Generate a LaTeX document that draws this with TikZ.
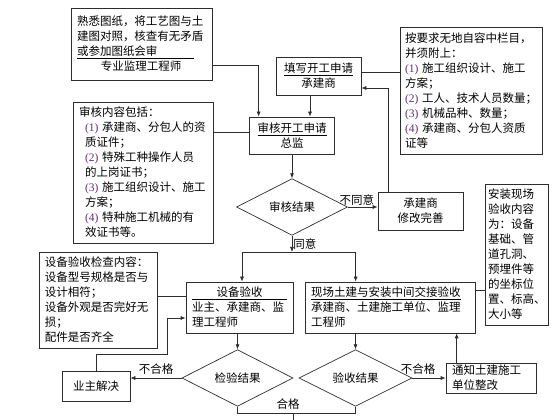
\documentclass[tikz,border=0pt]{standalone}
\usepackage{fontspec}
\setmainfont{Noto Sans CJK SC}
\newfontfamily\numfont{Liberation Serif}
\usepackage{xcolor}
\usepackage{tikz}
\usetikzlibrary{shapes.geometric,arrows.meta}
\definecolor{numcol}{RGB}{96,48,112}
\definecolor{linecol}{RGB}{45,45,45}
\newcommand{\itm}[1]{{\numfont\color{numcol}(#1)}~}

\begin{document}
\begin{tikzpicture}[x=1pt,y=1pt,line width=0.7pt,draw=linecol,
		box/.style={draw,rectangle,inner xsep=6pt,inner ysep=0pt,align=left,font=\fontsize{11.5}{15}\selectfont},
		cbox/.style={box,align=center},
		dia/.style={draw,diamond,inner sep=0pt,font=\fontsize{11.5}{15}\selectfont},
		lbl/.style={inner sep=1pt,font=\fontsize{11.5}{14}\selectfont},
		arr/.style={-{Latex[length=5pt,width=4pt]}}]
			\useasboundingbox (0,0) rectangle (560,420);
			\node[box,text width=129pt,minimum height=72pt] (n1) at (141.5,376) {熟悉图纸，将工艺图与土\\建图对照，核查有无矛盾\\\underline{或参加图纸会审\hspace{36pt}}\\\hspace*{24pt}专业监理工程师};
			\node[cbox,text width=73pt,minimum height=38pt] (n2) at (318.5,344) {\underline{填写开工申请}\\承建商};
			\node[box,inner xsep=5pt,text width=132pt,minimum height=127pt] (n3) at (471,329.5) {按要求无地自容中栏目，\\并须附上：\\\itm{1}施工组织设计、施工\\方案；\\\itm{2}工人、技术人员数量；\\\itm{3}机械品种、数量；\\\itm{4}承建商、分包人资质\\证等};
			\node[box,text width=128pt,minimum height=141pt] (n5) at (143,247.5) {审核内容包括：\\\hspace*{6pt}\itm{1}承建商、分包人的资\\\hspace*{6pt}质证件；\\\hspace*{6pt}\itm{2}特殊工种操作人员\\\hspace*{6pt}的上岗证书；\\\hspace*{6pt}\itm{3}施工组织设计、施工\\\hspace*{6pt}方案；\\\hspace*{6pt}\itm{4}特种施工机械的有\\\hspace*{6pt}效证书等。};
			\node[cbox,text width=73pt,minimum height=37pt] (n4) at (292,284.5) {\underline{审核开工申请}\\总监};
			\node[dia,minimum width=111pt,minimum height=44pt] (d1) at (292,213) {审核结果};
			\node[cbox,text width=73pt,minimum height=38pt] (n6) at (420.5,209) {承建商\\修改完善};
			\coordinate (split) at (292,168);
			\node[box,text width=95pt,minimum height=51pt] (n7) at (239.5,112.5) {\underline{\makebox[95pt]{设备验收}}\\业主、承建商、监\\理工程师};
			\node[box,text width=158pt,minimum height=51pt] (n8) at (390,112.5) {\underline{现场土建与安装中间交接验收}\\承建商、土建施工单位、监理\\工程师};
			\node[box,inner xsep=3pt,text width=57pt,minimum height=141pt] (n9) at (516.5,165.5) {安装现场\\验收内容\\为：设备\\基础、管\\道孔洞、\\预埋件等\\的坐标位\\置、标高、\\大小等};
			\node[box,text width=106pt,minimum height=96pt] (n10) at (98,120) {设备验收检查内容：\\设备型号规格是否与\\设计相符；\\设备外观是否完好无\\损；\\配件是否齐全};
			\node[dia,minimum width=111pt,minimum height=44pt] (d2) at (237.5,42) {检验结果};
			\node[cbox,text width=56pt,minimum height=30pt] (n11) at (96,34) {业主解决};
			\node[dia,minimum width=113pt,minimum height=44pt] (d3) at (355.5,42) {验收结果};
			\node[box,text width=78pt,minimum height=30pt] (n12) at (491,42) {通知土建施工\\单位整改};
			\coordinate (join) at (293,7);
			\coordinate (out) at (293,0);
			\draw[arr] ([yshift=-21pt]n1.east) -| ([xshift=9.5pt]n4.north west);
			\draw[arr] ([xshift=-8.5pt]n2.south) -- ([xshift=-8.5pt]n2.south |- n4.north);
			\draw ([yshift=4pt]n2.east) -- ([yshift=4pt]n2.east -| n3.west);
			\draw[arr] ([xshift=11pt]n6.north west) |- ([yshift=-12pt]n2.east);
			\draw ([yshift=3.5pt]n4.west) -- ([yshift=3.5pt]n4.west -| n5.east);
			\draw[arr] (n4.south) -- (d1.north);
			\draw[arr] (d1.east) -- node[lbl,above,xshift=-6pt] (l1) {不同意} (d1.east -| n6.west);
			\draw[arr] (d1.south) -- node[lbl,right] (l2) {同意} (split);
			\draw[arr] (split) -| ([xshift=2.5pt]n7.north);
			\draw[arr] (split) -| ([xshift=51pt]n8.north west);
			\draw ([yshift=17.5pt]n8.east) -- ([yshift=17.5pt]n8.east -| n9.west);
			\draw ([yshift=11.5pt]n7.west) -- ([yshift=11.5pt]n7.west -| n10.east);
			\draw[arr] (d2.north |- n7.south) -- (d2.north);
			\draw[arr] (d3.north |- n8.south) -- (d3.north);
			\draw[arr] (d2.west) -- node[lbl,above,yshift=2pt] (l3) {不合格} (d2.west -| n11.east);
			\draw[arr] (n11.north) -- ++(0pt,16pt) -| ([xshift=-18pt,yshift=-10.5pt]n7.west) -- ([yshift=-10.5pt]n7.west);
			\draw[arr] (d3.east) -- node[lbl,above,yshift=2pt,xshift=-11pt] (l4) {不合格} (d3.east -| n12.west);
			\draw[arr] ([xshift=11pt]n12.north west) -- ([xshift=11pt]n12.north west |- n8.south);
			\draw (d2.south) -- (d2.south |- join) -- (d3.south |- join) -- (d3.south);
			\draw (join) -- (out);
			\node[lbl] (l5) at (288,16) {合格};
		\end{tikzpicture}
\end{document}
